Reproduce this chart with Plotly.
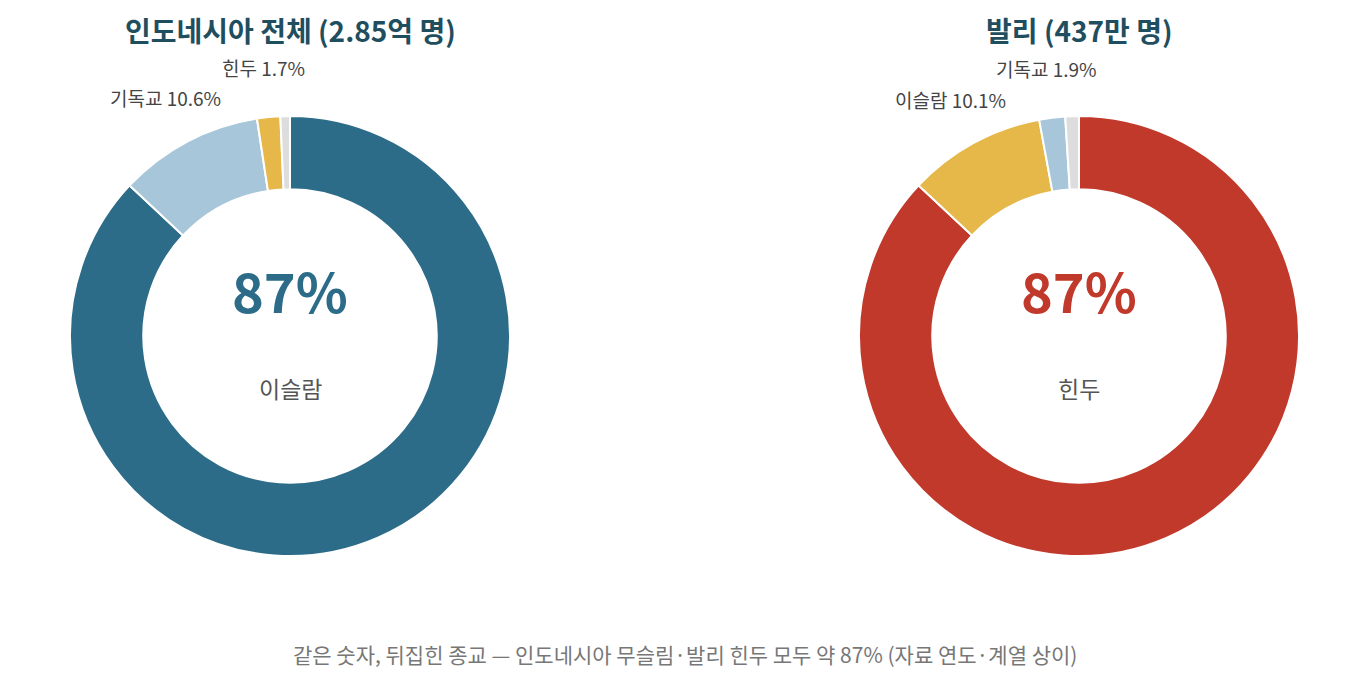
import math
import plotly.graph_objects as go

FONT = "Noto Sans CJK KR"

# Indonesia
indo_labels = ["이슬람", "기독교", "힌두", "기타"]
indo_values = [87.0, 10.6, 1.7, 0.7]
indo_colors = ["#2c6c89", "#a8c6da", "#e6b84a", "#dddddd"]
indo_show = [False, True, True, False]

# Bali
bali_labels = ["힌두", "이슬람", "기독교", "기타"]
bali_values = [87.0, 10.1, 1.9, 1.0]
bali_colors = ["#c0392b", "#e6b84a", "#a8c6da", "#dddddd"]
bali_show = [False, True, True, False]

titles = ["인도네시아 전체 (2.85억 명)", "발리 (437만 명)"]
center_values = ["87%", "87%"]
center_labels = ["이슬람", "힌두"]
center_colors = ["#2c6c89", "#c0392b"]
footer = "같은 숫자, 뒤집힌 종교 — 인도네시아 무슬림·발리 힌두 모두 약 87% (자료 연도·계열 상이)"

W, H = 1369, 681
ML, MR, MT, MB = 0, 0, 116, 125
R = 220
CY = 335
cx = [290, 1079]
LABEL_R = 1.22

plot_h = H - MT - MB
def py(pix):
    return (H - MB - pix) / plot_h

fig = go.Figure()
ann = []
for i, (labels, values, colors, show) in enumerate(
    [(indo_labels, indo_values, indo_colors, indo_show),
     (bali_labels, bali_values, bali_colors, bali_show)]):
    fig.add_trace(go.Pie(
        labels=labels, values=values, sort=False, direction="clockwise", rotation=0,
        hole=0.667,
        marker=dict(colors=colors, line=dict(color="white", width=2)),
        textinfo="none",
        domain=dict(x=[(cx[i] - R) / W, (cx[i] + R) / W], y=[0, 1]),
        showlegend=False,
        hovertemplate="%{label}: %{value}%<extra></extra>",
    ))
    total = sum(values)
    cum = 0.0
    for l, v, s in zip(labels, values, show):
        mid = (cum + v / 2) / total * 2 * math.pi
        cum += v
        if not s:
            continue
        px = cx[i] + LABEL_R * R * math.sin(mid)
        pyy = CY - LABEL_R * R * math.cos(mid)
        ann.append(dict(x=px / W, y=py(pyy), xref="paper", yref="paper",
                        text=f"{l} {v:.1f}%", showarrow=False,
                        font=dict(family=FONT, size=19, color="#444444"),
                        xanchor="center", yanchor="middle"))

for i in range(2):
    xc = cx[i] / W
    ann.append(dict(x=xc, y=py(30), xref="paper", yref="paper", text=f"<b>{titles[i]}</b>",
                    showarrow=False, font=dict(family=FONT, size=28, color="#1f4e5f"),
                    xanchor="center", yanchor="middle"))
    ann.append(dict(x=xc, y=py(289), xref="paper", yref="paper", text=f"<b>{center_values[i]}</b>",
                    showarrow=False, font=dict(family=FONT, size=54, color=center_colors[i]),
                    xanchor="center", yanchor="middle"))
    ann.append(dict(x=xc, y=py(388), xref="paper", yref="paper", text=center_labels[i],
                    showarrow=False, font=dict(family=FONT, size=23, color="#555555"),
                    xanchor="center", yanchor="middle"))
ann.append(dict(x=0.5, y=py(654), xref="paper", yref="paper", text=footer,
                showarrow=False, font=dict(family=FONT, size=21, color="#777777"),
                xanchor="center", yanchor="middle"))

fig.update_layout(
    width=W, height=H,
    margin=dict(l=ML, r=MR, t=MT, b=MB),
    paper_bgcolor="white", plot_bgcolor="white",
    font=dict(family=FONT),
    annotations=ann,
)

fig.write_html("out.html")
